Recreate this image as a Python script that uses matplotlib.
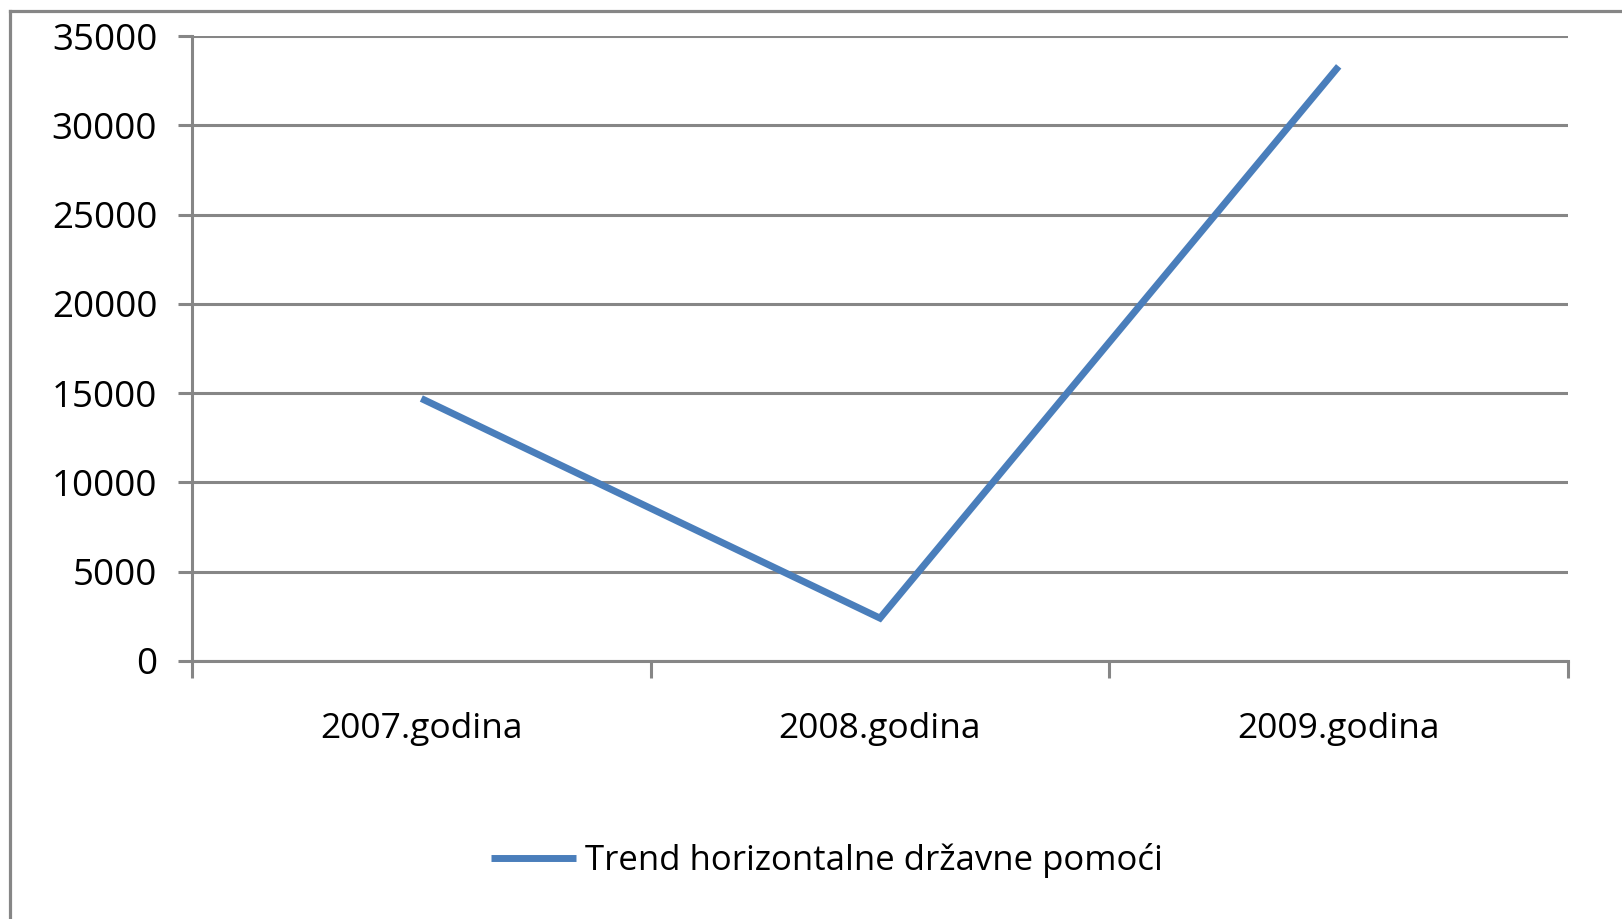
import matplotlib
matplotlib.use("Agg")
import matplotlib.pyplot as plt
from matplotlib.lines import Line2D

categories = ["2007.godina", "2008.godina", "2009.godina"]
values = [14700, 2400, 33300]
series_name = "Trend horizontalne državne pomoći"
yticks = [0, 5000, 10000, 15000, 20000, 25000, 30000, 35000]

W, H = 1622, 919
fig = plt.figure(figsize=(W / 100, H / 100), dpi=100)
fig.patch.set_facecolor("white")
plt.rcParams['font.family'] = ['Open Sans', 'DejaVu Sans']

gray = "#868686"
blue = "#4a7ebb"

# outer chart frame (top and left visible)
fig.add_artist(Line2D([10 / W, 10 / W], [0, 1 - 11 / H], transform=fig.transFigure, color=gray, lw=2.3))
fig.add_artist(Line2D([10 / W, 1.0], [1 - 11 / H, 1 - 11 / H], transform=fig.transFigure, color=gray, lw=2.3))

left, right, top, bottom = 192, 1568, 36, 661
ax = fig.add_axes([left / W, 1 - bottom / H, (right - left) / W, (bottom - top) / H])

x = list(range(len(categories)))
ax.plot(x, values, color=blue, lw=5, solid_capstyle="butt", solid_joinstyle="miter", label=series_name, zorder=3)

ax.set_xlim(-0.5, len(categories) - 0.5)
ax.set_ylim(0, 35000)
ax.set_yticks(yticks)
ax.set_yticklabels([str(v) for v in yticks])
ax.yaxis.grid(True, color=gray, lw=2.2)
ax.set_axisbelow(True)

ax.set_xticks([i - 0.5 for i in range(len(categories) + 1)])
ax.set_xticklabels([])
ax.set_xticks(x, minor=True)
ax.set_xticklabels(categories, minor=True)
ax.tick_params(axis="x", which="major", length=12, width=2.2, color=gray, direction="out")
ax.tick_params(axis="x", which="minor", length=0, pad=37, labelsize=25.5)
ax.tick_params(axis="y", length=10, width=2.2, color=gray, direction="out", pad=15, labelsize=26.5)

for s in ["top", "right"]:
    ax.spines[s].set_visible(False)
for s in ["left", "bottom"]:
    ax.spines[s].set_color(gray)
    ax.spines[s].set_linewidth(2.2)

leg = fig.legend(loc="center", bbox_to_anchor=(827 / W, 1 - 861 / H), frameon=False,
                 fontsize=25, handlelength=2.45, handletextpad=0.25)

fig.savefig("out.png", dpi=100, facecolor="white")
